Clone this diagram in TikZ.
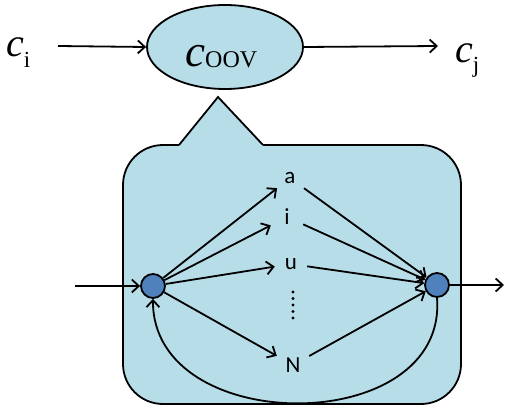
\documentclass[tikz,border=0pt]{standalone}
\usepackage{fontspec}
\setmainfont{Liberation Serif}
\newfontfamily\lblfont{Carlito}
\usetikzlibrary{arrows.meta,shapes.geometric}
\definecolor{boxblue}{HTML}{B7DDE8}
\definecolor{dotblue}{HTML}{4F81BD}
\tikzset{
  ln/.style={line width=1.8pt},
  arr/.style={ln,-{Straight Barb[length=7pt,width=13pt,line width=1.8pt]}},
  state/.style={circle,draw=black,line width=1.8pt,fill=dotblue,minimum size=24pt,inner sep=0pt},
  letter/.style={font=\lblfont\fontsize{23}{23}\selectfont,inner sep=0pt,minimum width=32pt,minimum height=20pt},
  big/.style={inner sep=0pt}
}
\begin{document}
\begin{tikzpicture}[x=1pt,y=-1pt]
\useasboundingbox (0,0) rectangle (505,409);
% callout
\draw[ln,fill=boxblue,rounded corners=40pt] (123,145) rectangle (461,404);
\fill[boxblue] (179,145) -- (218,97) -- (263,145) -- (263,148) -- (179,148) -- cycle;
\draw[ln,line join=miter] (179,145) -- (218,97) -- (263,145);
% top row
\node[ellipse,draw=black,line width=1.8pt,fill=boxblue,minimum width=156pt,minimum height=84pt,inner sep=0pt] (oov) at (225,47) {};
\node[big,anchor=base west] (ci) at (6,57) {\fontsize{40}{40}\selectfont\itshape c\raisebox{-11pt}{\upshape\fontsize{23}{23}\selectfont i}};
\node[big,anchor=base west] (oovt) at (185,67) {\fontsize{45}{45}\selectfont\itshape c\raisebox{-1pt}{\upshape\fontsize{24}{24}\selectfont OOV}};
\node[big,anchor=base west] (cj) at (455,63) {\fontsize{40}{40}\selectfont\itshape c\raisebox{-10pt}{\upshape\fontsize{23}{23}\selectfont j}};
\coordinate (ciE) at (58,46);
\coordinate (cjW) at (438,46);
\draw[arr] (ciE) -- (oov.west);
\draw[arr] (oov.east) -- (cjW);
% automaton
\node[state] (L) at (153,286) {};
\node[state] (R) at (437,285) {};
\node[letter] (a) at (290,178) {a};
\node[letter] (i) at (287,217) {i};
\node[letter] (u) at (291,264) {u};
\node[letter] (N) at (293,365) {N};
\foreach \y in {292,298.5,...,324} \fill (293,\y) circle (1.6pt);
\coordinate (in) at (75,286);
\coordinate (out) at (504,285);
\draw[arr] (in) -- (L);
\draw[arr] (R) -- (out);
\foreach \n in {a,i,u,N} {
  \draw[arr] (L) -- (\n);
  \draw[arr] (\n) -- (R);
}
\draw[arr] (R.south) .. controls (448,438) and (152,438) .. (L.south);
\end{tikzpicture}
\end{document}
